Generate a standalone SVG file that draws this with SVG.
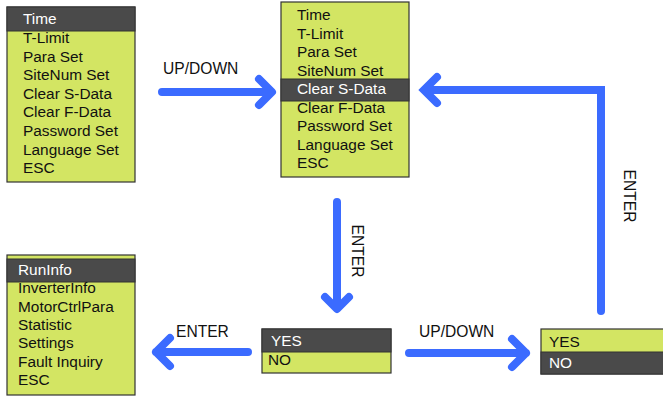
<svg xmlns="http://www.w3.org/2000/svg" width="663" height="396" viewBox="0 0 663 396">
<style>
.bg{fill:#d3e563;stroke:#333;stroke-width:1.2}
.hl{fill:#4a4a4a;stroke:#333;stroke-width:1}
text{font-family:"Liberation Sans",Arial,sans-serif;font-size:15.4px;fill:#111}
.w{fill:#fff}
.lbl{font-size:15.6px}
.arr{fill:none;stroke:#3b6bff;stroke-width:8;stroke-linecap:round;stroke-linejoin:round}
</style>
<rect width="663" height="396" fill="#fff"/>
<g id="menu1">
<rect class="bg" x="7" y="7" width="128" height="175"/>
<rect class="hl" x="7" y="7" width="128" height="24"/>
<text class="w" x="23" y="24">Time</text>
<text x="23" y="43">T-Limit</text>
<text x="23" y="61.6">Para Set</text>
<text x="23" y="80.2">SiteNum Set</text>
<text x="23" y="98.8">Clear S-Data</text>
<text x="23" y="117.4">Clear F-Data</text>
<text x="23" y="136">Password Set</text>
<text x="23" y="154.6">Language Set</text>
<text x="23" y="173.2">ESC</text>
</g>
<g id="menu2">
<rect class="bg" x="281" y="2" width="128" height="175"/>
<rect class="hl" x="281" y="79" width="128" height="22"/>
<text x="297" y="20">Time</text>
<text x="297" y="38.5">T-Limit</text>
<text x="297" y="57">Para Set</text>
<text x="297" y="75.5">SiteNum Set</text>
<text class="w" x="297" y="94">Clear S-Data</text>
<text x="297" y="112.5">Clear F-Data</text>
<text x="297" y="131">Password Set</text>
<text x="297" y="149.5">Language Set</text>
<text x="297" y="168">ESC</text>
</g>
<g id="menu3">
<rect class="bg" x="7" y="255" width="128" height="140"/>
<rect class="hl" x="7" y="259" width="128" height="23"/>
<text class="w" x="18" y="275">RunInfo</text>
<text x="18" y="293.3">InverterInfo</text>
<text x="18" y="311.6">MotorCtrlPara</text>
<text x="18" y="330">Statistic</text>
<text x="18" y="348.3">Settings</text>
<text x="18" y="366.6">Fault Inquiry</text>
<text x="18" y="385">ESC</text>
</g>
<g id="confirm1">
<rect class="bg" x="262" y="329" width="129" height="44"/>
<rect class="hl" x="262" y="329" width="129" height="23"/>
<text class="w" x="271" y="346">YES</text>
<text x="268" y="365">NO</text>
</g>
<g id="confirm2">
<rect class="bg" x="541" y="329" width="125" height="45"/>
<rect class="hl" x="541" y="352" width="125" height="22"/>
<text x="549" y="347">YES</text>
<text class="w" x="549" y="368">NO</text>
</g>
<g id="connectors">
<path class="arr" d="M162 92H271M259 79L272 92L259 105"/>
<path class="arr" d="M337 202V308M325 297L337 309L349 297"/>
<path class="arr" d="M601 311V90H425M437 77L424 90L437 103" style="stroke-linejoin:miter"/>
<path class="arr" d="M248 352H156M170 338L156 352L170 366"/>
<path class="arr" d="M409 353H526M512 339L526 353L512 367"/>
<text class="lbl" x="163" y="74">UP/DOWN</text>
<text class="lbl" x="419" y="337">UP/DOWN</text>
<text class="lbl" x="176" y="337">ENTER</text>
<text class="lbl" text-anchor="middle" transform="translate(357,251) rotate(90)" y="5.5">ENTER</text>
<text class="lbl" text-anchor="middle" transform="translate(629,196) rotate(90)" y="5.5">ENTER</text>
</g>
</svg>
